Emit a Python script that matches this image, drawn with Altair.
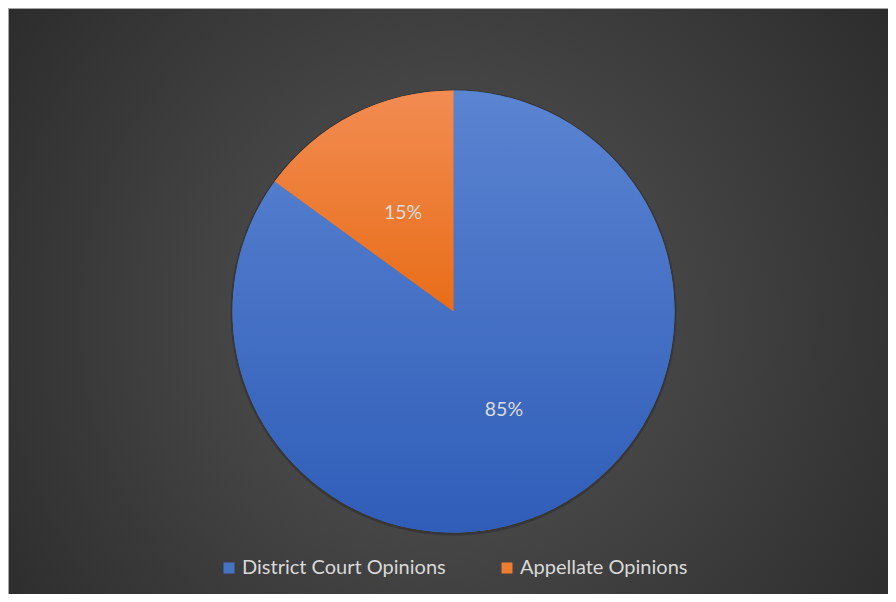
import altair as alt
import pandas as pd

categories = ["District Court Opinions", "Appellate Opinions"]
shares = [85, 15]
order = [1, 2]

W, H = 880, 586
CX, CY = 445.5, 303.5
R = 221

df = pd.DataFrame({"category": categories, "share": shares, "order": order})
bg_df = pd.DataFrame({"k": [0]})

bg = alt.Chart(bg_df).mark_rect(
    color={
        "gradient": "radial",
        "x1": 0.5, "y1": 0.52, "r1": 0,
        "x2": 0.5, "y2": 0.52, "r2": 0.72,
        "stops": [
            {"offset": 0, "color": "#565656"},
            {"offset": 1, "color": "#252525"},
        ],
    },
).encode(
    x=alt.value(0), x2=alt.value(W), y=alt.value(0), y2=alt.value(H)
)

edge_left = alt.Chart(bg_df).mark_rule(color="#a6a6a6", strokeWidth=1).encode(
    x=alt.value(0.5), y=alt.value(0), y2=alt.value(H)
)
edge_top = alt.Chart(bg_df).mark_rule(color="#a6a6a6", strokeWidth=1).encode(
    x=alt.value(0), x2=alt.value(W), y=alt.value(0.5)
)

base = (
    alt.Chart(df)
    .transform_window(cum="sum(share)", sort=[{"field": "order"}])
    .transform_calculate(
        start="datum.cum - datum.share",
        mid="datum.cum - datum.share / 2",
        label="datum.share + '%'",
    )
)

theta_scale = alt.Scale(domain=[0, 100])

shadow = base.mark_arc(radius=R + 2, color="#1e1e1e", opacity=0.35).encode(
    theta=alt.Theta("start:Q", scale=theta_scale),
    theta2="cum:Q",
    x=alt.value(CX), y=alt.value(CY + 1),
)

solid = base.mark_arc(radius=R).encode(
    theta=alt.Theta("start:Q", scale=theta_scale),
    theta2="cum:Q",
    x=alt.value(CX), y=alt.value(CY),
    color=alt.Color(
        "category:N",
        scale=alt.Scale(domain=categories, range=["#4472C4", "#ED7D31"]),
        sort=categories,
        legend=alt.Legend(
            title=None,
            orient="none",
            legendX=211,
            legendY=550,
            direction="horizontal",
            symbolType="square",
            symbolSize=121,
            symbolStrokeWidth=0,
            labelFontSize=20,
            labelFont="Lato",
            labelColor="#d9d9d9",
            labelOffset=3,
            labelLimit=0,
            columnPadding=51,
        ),
    ),
)

grad_blue = base.transform_filter(alt.datum.category == categories[0]).mark_arc(
    radius=R,
    color={
        "gradient": "linear", "x1": 0, "y1": 0, "x2": 0, "y2": 1,
        "stops": [
            {"offset": 0, "color": "#5b84d1"},
            {"offset": 1, "color": "#2f5db8"},
        ],
    },
).encode(
    theta=alt.Theta("start:Q", scale=theta_scale),
    theta2="cum:Q",
    x=alt.value(CX), y=alt.value(CY),
)

grad_orange = base.transform_filter(alt.datum.category == categories[1]).mark_arc(
    radius=R,
    color={
        "gradient": "linear", "x1": 0, "y1": 0, "x2": 0, "y2": 1,
        "stops": [
            {"offset": 0, "color": "#f28c52"},
            {"offset": 1, "color": "#e86d18"},
        ],
    },
).encode(
    theta=alt.Theta("start:Q", scale=theta_scale),
    theta2="cum:Q",
    x=alt.value(CX), y=alt.value(CY),
)

labels = base.mark_text(
    radius=111, fontSize=19.5, font="Lato", color="#dcdcdc"
).encode(
    theta=alt.Theta("mid:Q", scale=theta_scale),
    x=alt.value(CX), y=alt.value(CY),
    text="label:N",
)

chart = (
    alt.layer(bg, edge_left, edge_top, shadow, solid, grad_blue, grad_orange, labels)
    .properties(width=W, height=H, padding=0, autosize=alt.AutoSizeParams(type="none"))
    .configure_view(stroke=None)
    .configure(background="white")
)

chart.save("out.html", embed_options={"renderer": "svg", "actions": False})
